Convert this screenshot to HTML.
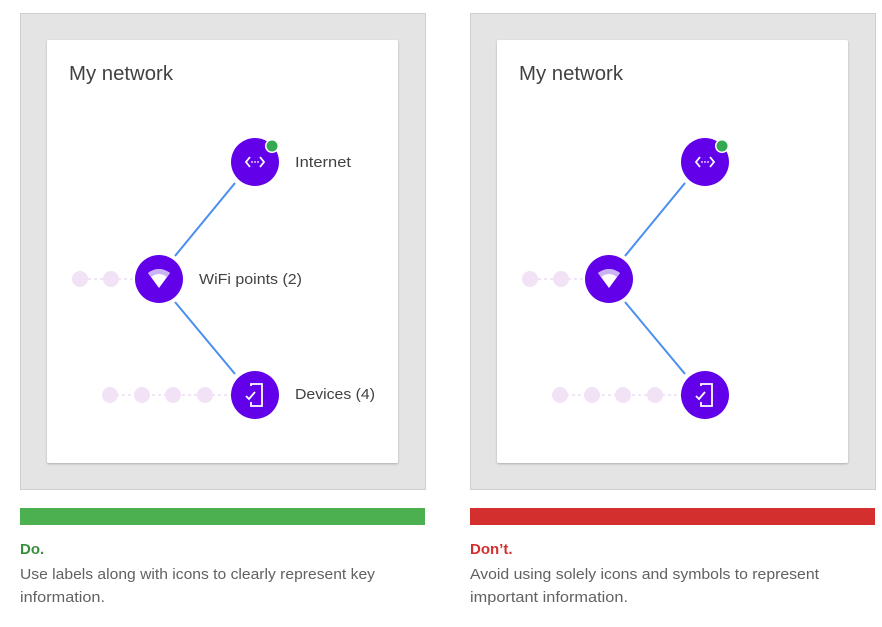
<!DOCTYPE html>
<html><head><meta charset="utf-8"><style>
body{margin:0;background:#fff;width:882px;height:622px;overflow:hidden;font-family:"Liberation Sans",sans-serif}
</style></head><body>
<svg width="882" height="622" xmlns="http://www.w3.org/2000/svg" font-family="Liberation Sans, sans-serif">
<defs>
<filter id="sh" x="-5%" y="-5%" width="110%" height="110%"><feDropShadow dx="0" dy="1" stdDeviation="1" flood-color="#000" flood-opacity="0.25"/></filter>
<g id="panel">
  <rect x="20.5" y="13.5" width="405" height="476" fill="#e4e4e4" stroke="#cfcfcf"/>
  <rect x="47" y="40" width="351" height="423" rx="2" fill="#fff" filter="url(#sh)"/>
  <text x="69" y="80" font-size="20" fill="#424242" textLength="104" lengthAdjust="spacingAndGlyphs">My network</text>
  <line x1="175" y1="256" x2="235" y2="183" stroke="#4a8ef0" stroke-width="2"/>
  <line x1="175" y1="302" x2="235" y2="374" stroke="#4a8ef0" stroke-width="2"/>
  <line x1="88" y1="279" x2="135" y2="279" stroke="#eedcf3" stroke-width="1.5" stroke-dasharray="3,3"/>
  <circle cx="80" cy="279" r="8" fill="#f1e2f6"/>
  <circle cx="111" cy="279" r="8" fill="#f1e2f6"/>
  <line x1="110" y1="395" x2="232" y2="395" stroke="#eedcf3" stroke-width="1.5" stroke-dasharray="3,3"/>
  <circle cx="110" cy="395" r="8" fill="#f1e2f6"/>
  <circle cx="142" cy="395" r="8" fill="#f1e2f6"/>
  <circle cx="173" cy="395" r="8" fill="#f1e2f6"/>
  <circle cx="205" cy="395" r="8" fill="#f1e2f6"/>
  <circle cx="255" cy="162" r="24" fill="#6200ea"/>
  <path d="M250 157 L246 162 L250 167 M260 157 L264 162 L260 167" stroke="#fff" stroke-width="1.8" fill="none"/>
  <circle cx="252" cy="162" r="0.9" fill="#fff"/><circle cx="255" cy="162" r="0.9" fill="#fff"/><circle cx="258" cy="162" r="0.9" fill="#fff"/>
  <circle cx="272" cy="146" r="7" fill="#fff"/><circle cx="272" cy="146" r="5.5" fill="#34a853"/>
  <circle cx="159" cy="279" r="24" fill="#6200ea"/>
  <path d="M148 273 Q159 265 170 273 L159 288 Z" fill="#fff"/>
  <path d="M148 273 Q159 265 170 273 L167 277 Q159 271 151 277 Z" fill="#c9b2f5"/>
  <circle cx="255" cy="395" r="24" fill="#6200ea"/>
  <path d="M251 386 L251 384 L262 384 L262 406 L251 406 L251 402" stroke="#fff" stroke-width="1.8" fill="none"/>
  <path d="M246 396 L249 399 L255 392" stroke="#fff" stroke-width="1.8" fill="none"/>
</g>
</defs>
<use href="#panel"/>
<text x="295" y="167" font-size="15" fill="#424242" textLength="56" lengthAdjust="spacingAndGlyphs">Internet</text>
<text x="199" y="284" font-size="15" fill="#424242" textLength="103" lengthAdjust="spacingAndGlyphs">WiFi points (2)</text>
<text x="295" y="399" font-size="15" fill="#424242" textLength="80" lengthAdjust="spacingAndGlyphs">Devices (4)</text>
<use href="#panel" transform="translate(450,0)"/>
<rect x="20" y="508" width="405" height="17" fill="#4caf50"/>
<rect x="470" y="508" width="405" height="17" fill="#d32f2f"/>
<text x="20" y="554" font-size="15" font-weight="bold" fill="#388e3c">Do.</text>
<text x="20" y="579" font-size="15" fill="#616161" textLength="355" lengthAdjust="spacingAndGlyphs">Use labels along with icons to clearly represent key</text>
<text x="20" y="602" font-size="15" fill="#616161" textLength="85" lengthAdjust="spacingAndGlyphs">information.</text>
<text x="470" y="554" font-size="15" font-weight="bold" fill="#d32f2f">Don’t.</text>
<text x="470" y="579" font-size="15" fill="#616161" textLength="349" lengthAdjust="spacingAndGlyphs">Avoid using solely icons and symbols to represent</text>
<text x="470" y="602" font-size="15" fill="#616161" textLength="158" lengthAdjust="spacingAndGlyphs">important information.</text>
</svg>
</body></html>
